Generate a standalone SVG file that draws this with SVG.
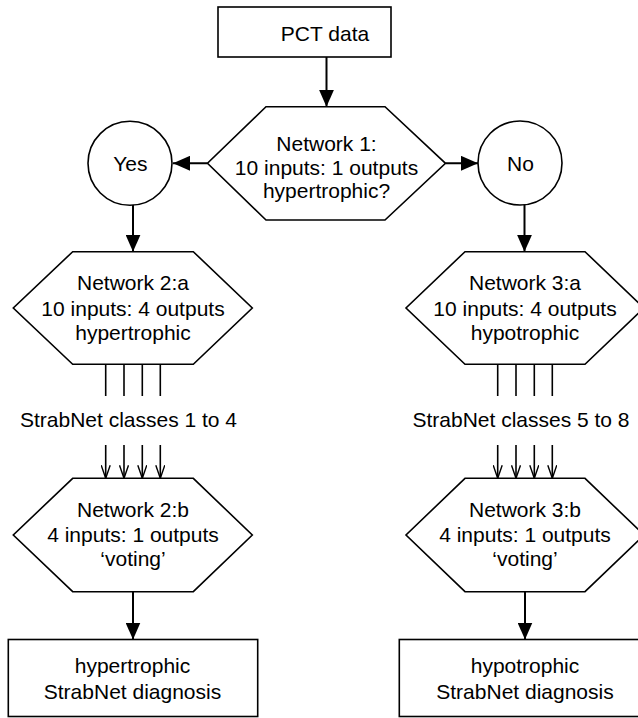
<svg xmlns="http://www.w3.org/2000/svg" width="638" height="718" viewBox="0 0 638 718">
  <style>
    .shape { fill: #ffffff; stroke: #000000; stroke-width: 1.6; }
    .label { font-family: "Liberation Sans", Arial, Helvetica, sans-serif; font-size: 21px; fill: #000000; text-anchor: middle; }
    .wire { fill: none; stroke: #000000; stroke-width: 2; }
    .thin { fill: none; stroke: #000000; stroke-width: 1.6; }
  </style>
  <defs>
    <marker id="head" viewBox="0 0 17 15" refX="17" refY="7.5" markerWidth="17" markerHeight="15" markerUnits="userSpaceOnUse" orient="auto">
      <path d="M0,0 L17,7.5 L0,15 Z" fill="#000000"/>
    </marker>
    <marker id="vee" viewBox="0 0 14 10" refX="13" refY="5" markerWidth="14" markerHeight="10" markerUnits="userSpaceOnUse" orient="auto">
      <path d="M0,0.5 L13,5 L0,9.5" fill="none" stroke="#000000" stroke-width="1.4"/>
    </marker>
  </defs>
  <rect width="638" height="718" fill="#ffffff"/>

  <!-- connectors -->
  <g id="connectors">
    <line class="wire" x1="326.5" y1="57" x2="326.5" y2="106.7" marker-end="url(#head)"/>
    <line class="wire" x1="207.5" y1="163.3" x2="173" y2="163.3" marker-end="url(#head)"/>
    <line class="wire" x1="445.5" y1="163.3" x2="478" y2="163.3" marker-end="url(#head)"/>
    <line class="wire" x1="133" y1="204.5" x2="133" y2="251.7" marker-end="url(#head)"/>
    <line class="wire" x1="524.5" y1="204" x2="524.5" y2="251.7" marker-end="url(#head)"/>
    <!-- four class outputs, left branch -->
    <line class="thin" x1="105.7" y1="364.3" x2="105.7" y2="396"/>
    <line class="thin" x1="124" y1="364.3" x2="124" y2="396"/>
    <line class="thin" x1="142.3" y1="364.3" x2="142.3" y2="396"/>
    <line class="thin" x1="160.3" y1="364.3" x2="160.3" y2="396"/>
    <line class="thin" x1="105.7" y1="445" x2="105.7" y2="478.3" marker-end="url(#vee)"/>
    <line class="thin" x1="124" y1="445" x2="124" y2="478.3" marker-end="url(#vee)"/>
    <line class="thin" x1="142.3" y1="445" x2="142.3" y2="478.3" marker-end="url(#vee)"/>
    <line class="thin" x1="160.3" y1="445" x2="160.3" y2="478.3" marker-end="url(#vee)"/>
    <!-- four class outputs, right branch -->
    <line class="thin" x1="497.7" y1="364.3" x2="497.7" y2="396"/>
    <line class="thin" x1="516" y1="364.3" x2="516" y2="396"/>
    <line class="thin" x1="534.3" y1="364.3" x2="534.3" y2="396"/>
    <line class="thin" x1="552.3" y1="364.3" x2="552.3" y2="396"/>
    <line class="thin" x1="497.7" y1="445" x2="497.7" y2="478.3" marker-end="url(#vee)"/>
    <line class="thin" x1="516" y1="445" x2="516" y2="478.3" marker-end="url(#vee)"/>
    <line class="thin" x1="534.3" y1="445" x2="534.3" y2="478.3" marker-end="url(#vee)"/>
    <line class="thin" x1="552.3" y1="445" x2="552.3" y2="478.3" marker-end="url(#vee)"/>
    <line class="wire" x1="133" y1="591.7" x2="133" y2="639.5" marker-end="url(#head)"/>
    <line class="wire" x1="525" y1="591.7" x2="525" y2="639.5" marker-end="url(#head)"/>
  </g>

  <g id="pct-data">
    <rect class="shape" x="218" y="7" width="173" height="50"/>
    <text class="label" x="325" y="40.5">PCT data</text>
  </g>

  <g id="network-1">
    <polygon class="shape" points="266,106.7 385,106.7 445.5,163.3 385,220 266,220 207.5,163.3"/>
    <text class="label" x="326.5" y="151">Network 1:</text>
    <text class="label" x="326.5" y="174.5">10 inputs: 1 outputs</text>
    <text class="label" x="326.5" y="198">hypertrophic?</text>
  </g>

  <g id="yes">
    <circle class="shape" cx="130" cy="163.3" r="42"/>
    <text class="label" x="130.3" y="170.5">Yes</text>
  </g>

  <g id="no">
    <circle class="shape" cx="520" cy="163" r="42"/>
    <text class="label" x="520.5" y="170.5">No</text>
  </g>

  <g id="network-2a">
    <polygon class="shape" points="72.7,251.7 193.3,251.7 252.3,308 193.3,364.3 72.7,364.3 13.3,308"/>
    <text class="label" x="133" y="290">Network 2:a</text>
    <text class="label" x="133" y="315.5">10 inputs: 4 outputs</text>
    <text class="label" x="133" y="340">hypertrophic</text>
  </g>

  <g id="network-3a">
    <polygon class="shape" points="465,251.7 585,251.7 644,308 585,364.3 465,364.3 406,308"/>
    <text class="label" x="525" y="290">Network 3:a</text>
    <text class="label" x="525" y="315.5">10 inputs: 4 outputs</text>
    <text class="label" x="525" y="340">hypotrophic</text>
  </g>

  <g id="classes-1-4">
    <text class="label" x="128.5" y="427">StrabNet classes 1 to 4</text>
  </g>

  <g id="classes-5-8">
    <text class="label" x="521" y="427">StrabNet classes 5 to 8</text>
  </g>

  <g id="network-2b">
    <polygon class="shape" points="72.7,478.3 193.3,478.3 252.3,535 193.3,591.7 72.7,591.7 13.3,535"/>
    <text class="label" x="133" y="517.3">Network 2:b</text>
    <text class="label" x="133" y="542.3">4 inputs: 1 outputs</text>
    <text class="label" x="133" y="566">‘voting’</text>
  </g>

  <g id="network-3b">
    <polygon class="shape" points="465,478.3 585,478.3 644,535 585,591.7 465,591.7 406,535"/>
    <text class="label" x="525" y="517.3">Network 3:b</text>
    <text class="label" x="525" y="542.3">4 inputs: 1 outputs</text>
    <text class="label" x="525" y="566">‘voting’</text>
  </g>

  <g id="hypertrophic-diagnosis">
    <rect class="shape" x="8.3" y="639.5" width="249.4" height="77"/>
    <text class="label" x="132.5" y="672.5">hypertrophic</text>
    <text class="label" x="132.5" y="698.5">StrabNet diagnosis</text>
  </g>

  <g id="hypotrophic-diagnosis">
    <rect class="shape" x="399.3" y="639.5" width="249.4" height="77"/>
    <text class="label" x="525" y="672.5">hypotrophic</text>
    <text class="label" x="525" y="698.5">StrabNet diagnosis</text>
  </g>
</svg>
